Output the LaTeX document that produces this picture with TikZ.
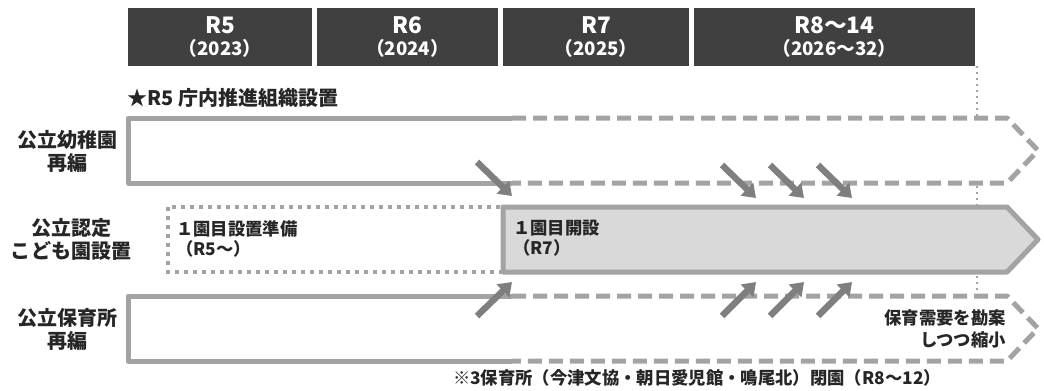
\documentclass[tikz,border=0pt]{standalone}
\usepackage{fontspec}
\setmainfont{Noto Sans CJK JP}
\usetikzlibrary{arrows.meta}
\definecolor{hdr}{HTML}{404040}
\definecolor{edge}{HTML}{A3A3A3}
\definecolor{arr}{HTML}{7F7F7F}
\definecolor{fillg}{HTML}{D9D9D9}
\definecolor{txt}{HTML}{262626}
\begin{document}
\begin{tikzpicture}[x=0.75pt,y=-0.75pt,
  hdrbox/.style={fill=hdr,text=white,minimum height=43.5pt,inner sep=0pt,align=center,
     font=\bfseries\fontsize{14}{16.5}\selectfont},
  lbl/.style={text=txt,align=center,inner sep=0pt,font=\bfseries\fontsize{15}{17}\selectfont},
  boxtxt/.style={text=txt,align=left,inner sep=0pt,anchor=west,font=\bfseries\fontsize{13}{15}\selectfont},
  solidedge/.style={draw=edge,line width=3.75pt,line join=round},
  dashedge/.style={draw=edge,line width=3.75pt,line join=round,dash pattern=on 10.5pt off 5.25pt},
  dotedge/.style={draw=edge,line width=3pt,dash pattern=on 3pt off 3.75pt},
  filledge/.style={draw=edge,fill=fillg,line width=3.75pt,line join=round},
  vdot/.style={draw=edge,line width=1.5pt,dash pattern=on 1.5pt off 3pt},
  fatarrow/.style={draw=arr,line width=4.8pt,-{Triangle[width=13pt,length=9.5pt]}}]
\useasboundingbox (0,0) rectangle (1044,390);
\fill[white] (0,0) rectangle (1044,390);

% header
\node[hdrbox,minimum width=138pt] (h5) at (220,37) {{\fontsize{17}{16.5}\selectfont R5}\\（2023）};
\node[hdrbox,minimum width=135.75pt] (h6) at (407.5,37) {{\fontsize{17}{16.5}\selectfont R6}\\（2024）};
\node[hdrbox,minimum width=139.5pt] (h7) at (596,37) {{\fontsize{17}{16.5}\selectfont R7}\\（2025）};
\node[hdrbox,minimum width=210.75pt] (h8) at (834.5,37) {{\fontsize{17}{16.5}\selectfont R8～14}\\（2026～32）};

% dotted guide
\coordinate (vtop) at (977,66);
\coordinate (vbot) at (977,296);
\draw[vdot] (vtop) -- (vbot);

\node[text=txt,anchor=west,inner sep=0pt,font=\bfseries\fontsize{15}{17}\selectfont] (star) at (127,98) {★R5 庁内推進組織設置};

% row 1
\fill[white] (128,118) -- (1007,118) -- (1038,150.5) -- (1007,183) -- (128,183) -- cycle;
\draw[solidedge] (512,118) -- (128,118) -- (128,183) -- (512,183);
\draw[dashedge] (512,118) -- (1007,118) -- (1038,150.5) -- (1007,183) -- (512,183);
\node[lbl] (l1) at (67,151.5) {公立幼稚園\\再編};

% row 2
\draw[dotedge] (168,207) rectangle (503,272);
\draw[filledge] (503,207) -- (1007,207) -- (1038,239.5) -- (1007,272) -- (503,272) -- cycle;
\node[lbl] (l2) at (71,239.5) {公立認定\\こども園設置};
\node[boxtxt] (t2a) at (176,238.5) {１園目設置準備\\（R5～）};
\node[boxtxt] (t2b) at (513,238.5) {１園目開設\\（R7）};

% row 3
\fill[white] (128,296) -- (1007,296) -- (1038,328.5) -- (1007,361) -- (128,361) -- cycle;
\draw[solidedge] (512,296) -- (128,296) -- (128,361) -- (512,361);
\draw[dashedge] (512,296) -- (1007,296) -- (1038,328.5) -- (1007,361) -- (512,361);
\node[lbl] (l3) at (67,329.5) {公立保育所\\再編};
\node[text=txt,align=right,anchor=east,inner sep=0pt,font=\bfseries\fontsize{13}{16.5}\selectfont] (t3) at (1006,328.5) {保育需要を勘案\\しつつ縮小};

\node[text=txt,inner sep=0pt,font=\bfseries\fontsize{13}{15}\selectfont] (note) at (697,378) {※3保育所（今津文協・朝日愛児館・鳴尾北）閉園（R8～12）};

% arrows
\coordinate (a1s) at (477,162); \coordinate (a1e) at (512,196);
\coordinate (a2s) at (722,165); \coordinate (a2e) at (756,198);
\coordinate (a3s) at (770,165); \coordinate (a3e) at (804,198);
\coordinate (a4s) at (818,165); \coordinate (a4e) at (852,198);
\coordinate (b1s) at (477,316); \coordinate (b1e) at (512,282);
\coordinate (b2s) at (722,316); \coordinate (b2e) at (756,282);
\coordinate (b3s) at (770,316); \coordinate (b3e) at (804,282);
\coordinate (b4s) at (818,316); \coordinate (b4e) at (852,282);
\foreach \n in {a1,a2,a3,a4,b1,b2,b3,b4}{
  \draw[fatarrow] (\n s) -- (\n e);
}
\end{tikzpicture}
\end{document}
